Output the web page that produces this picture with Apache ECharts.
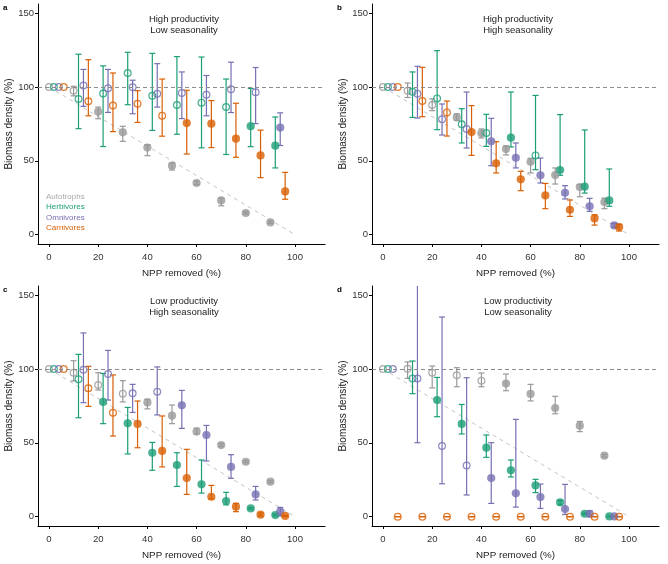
<!DOCTYPE html>
<html><head><meta charset="utf-8">
<script src="https://cdn.jsdelivr.net/npm/echarts@6/dist/echarts.min.js"></script>
<style>html,body{margin:0;padding:0;background:#fff}#c{width:668px;height:564px}</style>
</head><body><div id="c"></div>
<script>
// x positions (NPP removed, %) for each trophic group (dodged)
const xAuto = [0,10,20,30,40,50,60,70,80,90];
const xHerb = [2,12,22,32,42,52,62,72,82,92];
const xOmni = [4,14,24,34,44,54,64,74,84,94];
const xCarn = [6,16,26,36,46,56,66,76,86,96];
const xTicks = [0,20,40,60,80,100];
const yTicks = [0,50,100,150];
const groupNames = ['Autotrophs','Herbivores','Omnivores','Carnivores'];
const panelLetters = ['a','b','c','d'];
const panelLine1 = ['High productivity','High productivity','Low productivity','Low productivity'];
const panelLine2 = ['Low seasonality','High seasonality','High seasonality','Low seasonality'];
const refLine = [[0,100],[100,0]];
const hLineValue = 100;

// rows: [mean, low, high, filled(1) / open(0)]
const a_auto = [[100,null,null,0],[97.5,94,100.5,0],[83.3,78.5,86.4,1],[69.3,63.2,73.4,1],[59.0,53.5,60.9,1],[46.7,43.8,48.5,1],[35.0,34.0,36.3,1],[23.2,19.6,24.8,1],[14.7,14.0,15.5,1],[8.3,7.6,9.0,1]];
const a_herb = [[100,null,null,0],[91.9,71.8,122.2,0],[95.6,59.7,114.3,0],[109.4,88.0,123.5,0],[94.1,70.6,122.8,0],[87.8,68.0,120.6,0],[89.4,58.8,120.3,0],[86.5,54.3,105.4,0],[73.5,59.6,99.0,1],[60.3,45.2,79.7,1]];
const a_omni = [[100,null,null,0],[101.0,86.9,111.9,0],[99.2,82.8,111.9,0],[99.8,81.9,104.6,0],[95.4,86.4,115.8,0],[95.9,78.6,110.2,0],[94.8,80.5,107.8,0],[98.5,82.7,116.8,0],[96.4,75.2,113.2,0],[72.5,60.4,82.5,1]];
const a_carn = [[100,null,null,0],[90.3,80.5,118.5,0],[87.5,69.8,109.5,0],[88.6,76.0,97.5,0],[80.6,66.7,105.4,0],[75.6,54.6,97.8,1],[75.2,59.0,90.8,1],[65.0,52.4,89.0,1],[53.7,38.6,70.8,1],[29.3,24.0,42.2,1]];

const b_auto = [[100,null,null,0],[97.5,92.9,102.7,0],[87.8,84.0,92.0,0],[79.4,77.4,81.9,1],[68.7,65.5,71.6,1],[58.0,54.0,60.2,1],[49.4,41.8,51.7,1],[40.4,34.3,45.2,1],[32.3,25.7,33.9,1],[22.1,17.6,24.8,1]];
const b_herb = [[100,null,null,0],[96.8,79.4,110.2,0],[92.3,71.1,124.6,0],[74.7,62.1,85.3,0],[68.9,59.8,81.5,0],[65.7,59.4,96.6,1],[53.7,44.0,94.3,0],[43.8,40.2,81.3,1],[32.5,28.2,70.9,1],[23.2,19.2,44.5,1]];
const b_omni = [[100,null,null,0],[95.5,79.0,114.0,0],[78.1,67.5,88.5,0],[71.6,58.7,96.6,0],[63.2,46.7,78.8,1],[52.1,45.2,62.1,1],[40.2,35.0,51.9,1],[28.4,24.2,33.2,1],[19.2,15.8,24.6,1],[6.3,5.0,7.5,1]];
const b_carn = [[100,null,null,0],[90.5,79.9,113.3,0],[82.8,66.8,90.5,0],[69.5,53.7,87.4,1],[48.3,41.8,63.0,1],[37.5,29.8,42.9,1],[26.6,17.6,34.7,1],[16.9,12.4,23.5,1],[11.0,6.5,13.5,1],[5.2,2.5,7.0,1]];

const c_auto = [[100,null,null,0],[97.5,91.9,105.6,0],[89.2,85.8,97.5,0],[83.3,77.7,92.1,0],[77.4,73.0,79.5,1],[68.4,63.0,75.6,1],[57.6,56.0,60.0,1],[48.5,47.5,49.5,1],[37.2,36.5,38.0,1],[23.7,23.0,24.5,1]];
const c_herb = [[100,null,null,0],[93.0,67.0,109.9,0],[77.7,63.0,97.0,1],[63.2,42.5,74.0,1],[43.3,31.4,50.3,1],[35.0,20.5,43.3,1],[21.9,16.0,38.4,1],[10.6,8.0,16.5,1],[5.6,5.0,6.2,1],[1.1,0.5,1.8,1]];
const c_omni = [[100,null,null,0],[99.5,77.2,124.4,0],[96.6,79.0,112.6,0],[83.5,70.6,89.6,0],[84.6,68.9,101.4,0],[75.4,59.8,85.5,1],[55.3,37.7,61.8,1],[33.7,26.0,42.0,1],[15.1,11.3,20.5,1],[3.4,0.5,6.3,1]];
const c_carn = [[100,null,null,0],[86.9,74.7,101.8,0],[70.4,54.6,96.0,0],[62.8,46.7,78.3,1],[44.5,33.7,68.2,1],[26.2,15.1,45.6,1],[13.5,12.0,21.2,1],[6.8,3.4,9.0,1],[1.4,0.5,2.5,1],[0.5,0.2,0.8,1]];

const d_auto = [[100,null,null,0],[100.2,93.7,104.8,0],[97.5,87.2,102.0,0],[95.7,88.0,100.9,0],[92.1,88.0,97.3,0],[90.1,85.3,96.6,1],[83.1,78.4,89.6,1],[73.6,69.7,81.5,1],[61.6,57.6,64.5,1],[41.3,40.5,42.2,1]];
const d_herb = [[100,null,null,0],[93.5,83.3,105.4,0],[79.0,67.7,94.3,1],[62.8,56.0,76.0,1],[46.7,40.2,55.3,1],[31.4,26.9,38.4,1],[21.2,16.3,25.3,1],[9.7,8.0,11.0,1],[2.0,1.5,2.5,1],[0.2,0.0,0.4,1]];
const d_omni = [[100,null,null,0],[93.5,50.1,175,0],[47.9,22.3,135.2,0],[34.7,14.7,94.1,0],[26.2,9.0,50.1,1],[15.8,6.5,65.9,1],[13.3,5.6,22.1,1],[5.2,1.5,21.9,1],[2.0,0.0,4.0,1],[0.2,0.0,0.4,1]];
const d_carn = [[0,0,0,0],[0,0,0,0],[0,0,0,0],[0,0,0,0],[0,0,0,0],[0,0,0,0],[0,0,0,0],[0,0,0,0],[0,0,0,0],[0,0,0,0]];

const panels = [
  [a_auto,a_herb,a_omni,a_carn],
  [b_auto,b_herb,b_omni,b_carn],
  [c_auto,c_herb,c_omni,c_carn],
  [d_auto,d_herb,d_omni,d_carn]
];
const groupX = [xAuto,xHerb,xOmni,xCarn];
const colors = ['#999999','#1b9e77','#7570b3','#d95f02'];
const legendColors = ['#a9a9a9','#1b9e77','#7570b3','#d95f02'];
const FONT = 'Liberation Sans, Arial, Helvetica, sans-serif';

const gridPos = [
  {left:38, top:4}, {left:372, top:4}, {left:38, top:286}, {left:372, top:286}
];
const grids = gridPos.map(g => ({left:g.left, top:g.top, width:287, height:240, containLabel:false}));

const xAxes = [], yAxes = [], series = [], graphics = [];
gridPos.forEach((g, p) => {
  xAxes.push({
    gridIndex:p, type:'value', min:-4.47, max:112.2,
    axisLine:{show:true, onZero:false, lineStyle:{color:'#000', width:1}},
    axisTick:{show:true, length:3, customValues:xTicks, lineStyle:{color:'#000', width:1}},
    axisLabel:{customValues:xTicks, margin:8, fontSize:9.5, color:'#333', fontFamily:FONT},
    splitLine:{show:false},
    name:'NPP removed (%)', nameLocation:'middle', nameGap:24,
    nameTextStyle:{fontSize:9.8, color:'#222', fontFamily:FONT}
  });
  yAxes.push({
    gridIndex:p, type:'value', min:-6.3, max:156.2,
    axisLine:{show:true, onZero:false, lineStyle:{color:'#000', width:1}},
    axisTick:{show:true, length:3, customValues:yTicks, lineStyle:{color:'#000', width:1}},
    axisLabel:{customValues:yTicks, margin:4, fontSize:9.5, color:'#333', fontFamily:FONT},
    splitLine:{show:false},
    name:'Biomass density (%)', nameLocation:'middle', nameGap:19,
    nameTextStyle:{fontSize:10, color:'#222', fontFamily:FONT}
  });
  // reference lines
  series.push({
    type:'line', xAxisIndex:p, yAxisIndex:p, data:refLine, symbol:'none', silent:true,
    lineStyle:{color:'#c4c4c4', width:1, type:[4,4]}, z:1,
    markLine:{silent:true, symbol:'none', label:{show:false},
      lineStyle:{color:'#8c8c8c', width:1, type:[4,3]},
      data:[{yAxis:hLineValue}]}
  });
  const rowsAll = panels[p];
  // error bars
  rowsAll.forEach((rows, gi) => {
    const col = colors[gi];
    const data = [];
    rows.forEach((r, i) => { if (r[1] !== null) data.push([groupX[gi][i], r[1], r[2]]); });
    series.push({
      type:'custom', xAxisIndex:p, yAxisIndex:p, data, clip:true, silent:true, z:2,
      encode:{x:0, y:[1,2]},
      renderItem:(params, api) => {
        const x = api.value(0), lo = api.value(1), hi = api.value(2);
        const p1 = api.coord([x, lo]), p2 = api.coord([x, hi]);
        const w = 3;
        const st = {stroke:col, lineWidth:1.2};
        return {type:'group', children:[
          {type:'line', shape:{x1:p1[0], y1:p1[1], x2:p2[0], y2:p2[1]}, style:st},
          {type:'line', shape:{x1:p1[0]-w, y1:p1[1], x2:p1[0]+w, y2:p1[1]}, style:st},
          {type:'line', shape:{x1:p2[0]-w, y1:p2[1], x2:p2[0]+w, y2:p2[1]}, style:st}
        ]};
      }
    });
  });
  // points
  rowsAll.forEach((rows, gi) => {
    const col = colors[gi];
    series.push({
      type:'scatter', name:groupNames[gi], xAxisIndex:p, yAxisIndex:p, z:3, silent:true,
      data: rows.map((r, i) => r[3] ? {value:[groupX[gi][i], r[0]], symbolSize:8.2, itemStyle:{color:col}}
                                     : {value:[groupX[gi][i], r[0]], symbolSize:6.8, itemStyle:{color:'rgba(255,255,255,0)', borderColor:col, borderWidth:1.2}})
    });
  });
  // panel letter
  graphics.push({type:'text', left:g.left-35, top:g.top, style:{text:panelLetters[p], fontSize:8, fontWeight:'bold', fill:'#000', fontFamily:FONT}});
  // annotation
  graphics.push({type:'text', x:g.left+146, y:g.top+15, style:{text:panelLine1[p], fontSize:9.5, fill:'#222', fontFamily:FONT, align:'center', verticalAlign:'middle'}});
  graphics.push({type:'text', x:g.left+146, y:g.top+26, style:{text:panelLine2[p], fontSize:9.5, fill:'#222', fontFamily:FONT, align:'center', verticalAlign:'middle'}});
});
// legend text (panel a)
groupNames.forEach((n, i) => {
  graphics.push({type:'text', x:46, y:197 + i*10.2, style:{text:n, fontSize:8, fill:legendColors[i], fontFamily:FONT, align:'left', verticalAlign:'middle'}});
});

const chart = echarts.init(document.getElementById('c'), null, {renderer:'canvas'});
chart.setOption({
  animation:false,
  backgroundColor:'#fff',
  grid:grids, xAxis:xAxes, yAxis:yAxes, series, graphic:graphics
});
</script>
</body></html>
